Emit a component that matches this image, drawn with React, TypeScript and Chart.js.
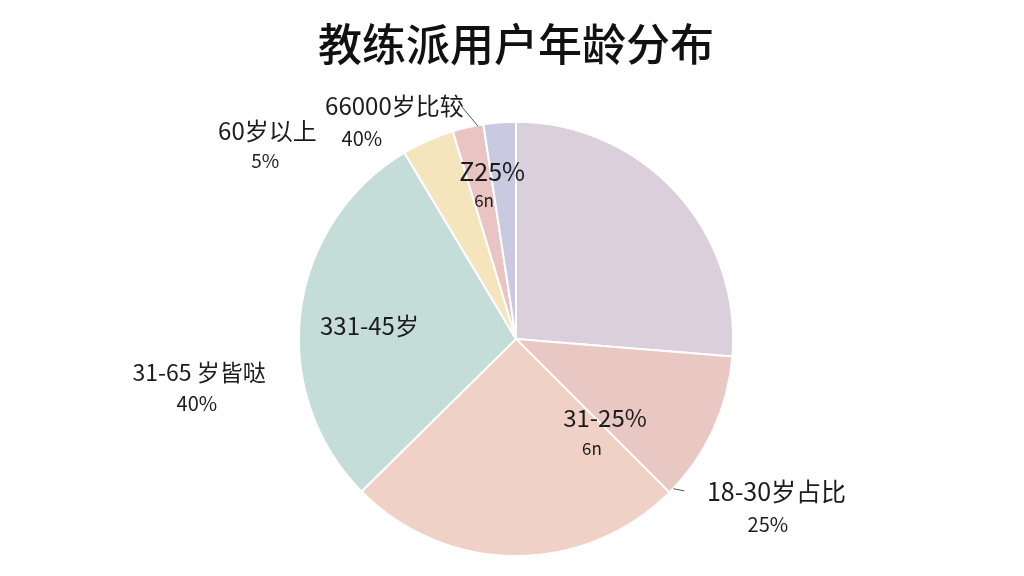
import React, { useEffect, useRef } from "react";
import { Chart, registerables } from "chart.js";

Chart.register(...registerables);

const titleText = "教练派用户年龄分布";
const categories = ["31-25%", "18-30岁占比", "31-65岁", "331-45岁", "60岁以上", "Z25%", "66000岁比较"];
const values = [26.3, 11.2, 25.1, 28.8, 3.9, 2.3, 2.4];
const colors = ["#dccfdc", "#e9c7c2", "#f0d1c5", "#c5ddd8", "#f4e5bd", "#e9c4c3", "#c9cae1"];

// annotation texts (label, font size)
const labelTexts = [
  { t: "66000岁比较", s: 24 },
  { t: "40%", s: 20 },
  { t: "60岁以上", s: 24 },
  { t: "5%", s: 19 },
  { t: "Z25%", s: 25 },
  { t: "6n", s: 17 },
  { t: "331-45岁", s: 24 },
  { t: "31-65 岁皆哒", s: 23 },
  { t: "40%", s: 20 },
  { t: "31-25%", s: 24 },
  { t: "6n", s: 17 },
  { t: "18-30岁占比", s: 25 },
  { t: "25%", s: 20 },
];

// offsets relative to pie centre, in units of radius
const labelOffsets = [
  [-0.56, -1.075],
  [-0.71, -0.925],
  [-1.145, -0.96],
  [-1.155, -0.82],
  [-0.11, -0.77],
  [-0.147, -0.635],
  [-0.675, -0.06],
  [-1.46, 0.155],
  [-1.47, 0.295],
  [0.41, 0.365],
  [0.35, 0.505],
  [1.2, 0.705],
  [1.16, 0.853],
];

const labelPlugin = {
  id: "labelPlugin",
  afterDatasetsDraw(chart: any) {
    const meta = chart.getDatasetMeta(0);
    const arc = meta.data[0];
    if (!arc) return;
    const cx = arc.x;
    const cy = arc.y;
    const r = arc.outerRadius;
    const ctx = chart.ctx;
    ctx.save();
    ctx.fillStyle = "#1c1c1c";
    ctx.textAlign = "center";
    ctx.textBaseline = "middle";
    labelTexts.forEach((l, i) => {
      ctx.font = `${l.s}px "Noto Sans CJK SC", "Noto Sans", sans-serif`;
      ctx.fillText(l.t, cx + labelOffsets[i][0] * r, cy + labelOffsets[i][1] * r);
    });
    ctx.strokeStyle = "#555555";
    ctx.lineWidth = 1;
    ctx.beginPath();
    ctx.moveTo(cx - 0.25 * r, cy - 1.07 * r);
    ctx.lineTo(cx - 0.175 * r, cy - 0.98 * r);
    ctx.moveTo(cx + 0.725 * r, cy + 0.69 * r);
    ctx.lineTo(cx + 0.775 * r, cy + 0.7 * r);
    ctx.stroke();
    ctx.restore();
  },
};

export default function App() {
  const ref = useRef<HTMLCanvasElement>(null);
  useEffect(() => {
    const chart = new Chart(ref.current as HTMLCanvasElement, {
      type: "pie",
      data: {
        labels: categories,
        datasets: [
          {
            data: values,
            backgroundColor: colors,
            borderColor: "#ffffff",
            borderWidth: 2,
          },
        ],
      },
      options: {
        animation: false,
        responsive: false,
        layout: { padding: { left: 8, right: 0, top: 0, bottom: 19 } },
        plugins: {
          legend: { display: false },
          tooltip: { enabled: false },
          title: {
            display: true,
            text: titleText,
            color: "#111111",
            font: { size: 44, weight: "500", family: '"Noto Sans CJK SC", sans-serif' },
            padding: { top: 18, bottom: 50 },
          },
        },
      },
      plugins: [labelPlugin],
    });
    return () => chart.destroy();
  }, []);
  return (
    <div style={{ position: "fixed", left: 0, top: 0, width: 1024, height: 576, background: "#ffffff" }}>
      <canvas ref={ref} width={1024} height={576} />
    </div>
  );
}
